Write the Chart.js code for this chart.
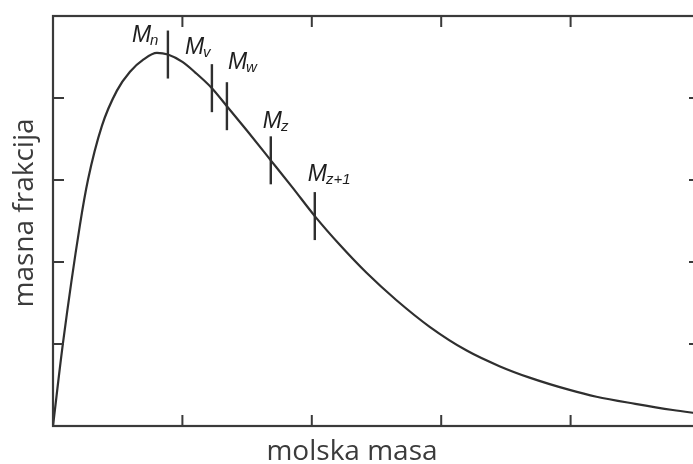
<!DOCTYPE html>
<html>
<head>
<meta charset="utf-8">
<script src="https://cdn.jsdelivr.net/npm/chart.js@4/dist/chart.umd.min.js"></script>
<style>
  html, body { margin: 0; padding: 0; background: #fff; overflow: hidden; }
  #wrap { width: 701px; height: 464px; }
</style>
</head>
<body>
<div id="wrap"><canvas id="chart" width="701" height="464"></canvas></div>
<script>
// Mass-fraction distribution over molar mass (arbitrary units)
const molarMass = [0, 0.077, 0.208, 0.27, 0.378, 0.494, 0.595, 0.70, 0.803, 0.888, 1.0, 1.1, 1.228, 1.344, 1.5, 1.683, 1.85, 2.023, 2.216, 2.425, 2.65, 2.911, 3.197, 3.45, 3.683, 3.992, 4.2, 4.5, 4.79, 5.0];
const massFraction = [0, 1.01, 2.45, 3.0, 3.66, 4.09, 4.32, 4.47, 4.55, 4.53, 4.44, 4.31, 4.12, 3.90, 3.60, 3.24, 2.91, 2.56, 2.21, 1.865, 1.54, 1.21, 0.92, 0.73, 0.59, 0.44, 0.357, 0.27, 0.195, 0.15];

// Average molar masses and the curve height at each
const averageNames = ['n', 'v', 'w', 'z', 'z+1'];
const averageMass = [0.888, 1.228, 1.344, 1.683, 2.023];
const averageFraction = [4.53, 4.12, 3.90, 3.24, 2.56];

// Axis tick positions (unlabelled)
const tickValues = [1, 2, 3, 4];

const INK = '#2f2f2f';

// Frame with inward ticks on all four sides, plus axis titles
const framePlugin = {
  id: 'frame',
  afterDraw(chart) {
    const { ctx, chartArea: a, scales } = chart;
    ctx.save();
    ctx.strokeStyle = '#3a3a3a';
    ctx.lineWidth = 2.2;
    ctx.strokeRect(a.left, a.top, a.right - a.left, a.bottom - a.top);
    ctx.lineWidth = 2;
    const len = 11;
    ctx.beginPath();
    tickValues.forEach(v => {
      const x = scales.x.getPixelForValue(v);
      ctx.moveTo(x, a.bottom); ctx.lineTo(x, a.bottom - len);
      ctx.moveTo(x, a.top); ctx.lineTo(x, a.top + len);
      const y = scales.y.getPixelForValue(v);
      ctx.moveTo(a.left, y); ctx.lineTo(a.left + len, y);
      ctx.moveTo(a.right, y); ctx.lineTo(a.right - len, y);
    });
    ctx.stroke();

    ctx.fillStyle = '#3b3b3b';
    ctx.font = '28px "Open Sans"';
    ctx.textAlign = 'center';
    ctx.textBaseline = 'alphabetic';
    ctx.fillText('molska masa', a.left + 299, 460);
    ctx.translate(33, a.top + 197);
    ctx.rotate(-Math.PI / 2);
    ctx.fillText('masna frakcija', 0, 0);
    ctx.restore();
  }
};

// M labels with subscripts next to each average marker
const labelOffsets = [[-36, -13], [-27, -34], [1, -37], [-8, -32], [-7, -35]];
const averageLabels = {
  id: 'averageLabels',
  afterDatasetsDraw(chart) {
    const { ctx, scales } = chart;
    ctx.save();
    ctx.fillStyle = '#1e1e1e';
    ctx.textAlign = 'left';
    ctx.textBaseline = 'alphabetic';
    averageNames.forEach((name, i) => {
      const px = scales.x.getPixelForValue(averageMass[i]) + labelOffsets[i][0];
      const py = scales.y.getPixelForValue(averageFraction[i]) + labelOffsets[i][1];
      ctx.font = 'italic 23px "Liberation Sans"';
      ctx.fillText('M', px, py);
      const w = ctx.measureText('M').width;
      ctx.font = 'italic 15px "Liberation Sans"';
      ctx.fillText(name, px + w - 1, py + 3);
    });
    ctx.restore();
  }
};

new Chart(document.getElementById('chart'), {
  type: 'scatter',
  data: {
    datasets: [
      {
        label: 'masna frakcija',
        data: molarMass.map((x, i) => ({ x, y: massFraction[i] })),
        showLine: true,
        borderColor: INK,
        borderWidth: 2.2,
        pointRadius: 0,
        tension: 0.4,
        cubicInterpolationMode: 'monotone',
        fill: false
      },
      {
        label: 'averages',
        data: averageMass.map((x, i) => ({ x, y: averageFraction[i] })),
        showLine: false,
        pointStyle: 'line',
        rotation: 90,
        pointRadius: 24,
        pointHoverRadius: 24,
        borderColor: INK,
        borderWidth: 2.4,
        clip: false
      }
    ]
  },
  options: {
    responsive: false,
    animation: false,
    devicePixelRatio: 1,
    layout: { autoPadding: false, padding: { left: 53, top: 16, right: 1, bottom: 38 } },
    plugins: {
      legend: { display: false },
      tooltip: { enabled: false }
    },
    scales: {
      x: { type: 'linear', min: 0, max: 5, display: false },
      y: { type: 'linear', min: 0, max: 5, display: false }
    },
    events: []
  },
  plugins: [framePlugin, averageLabels]
});
</script>
</body>
</html>
